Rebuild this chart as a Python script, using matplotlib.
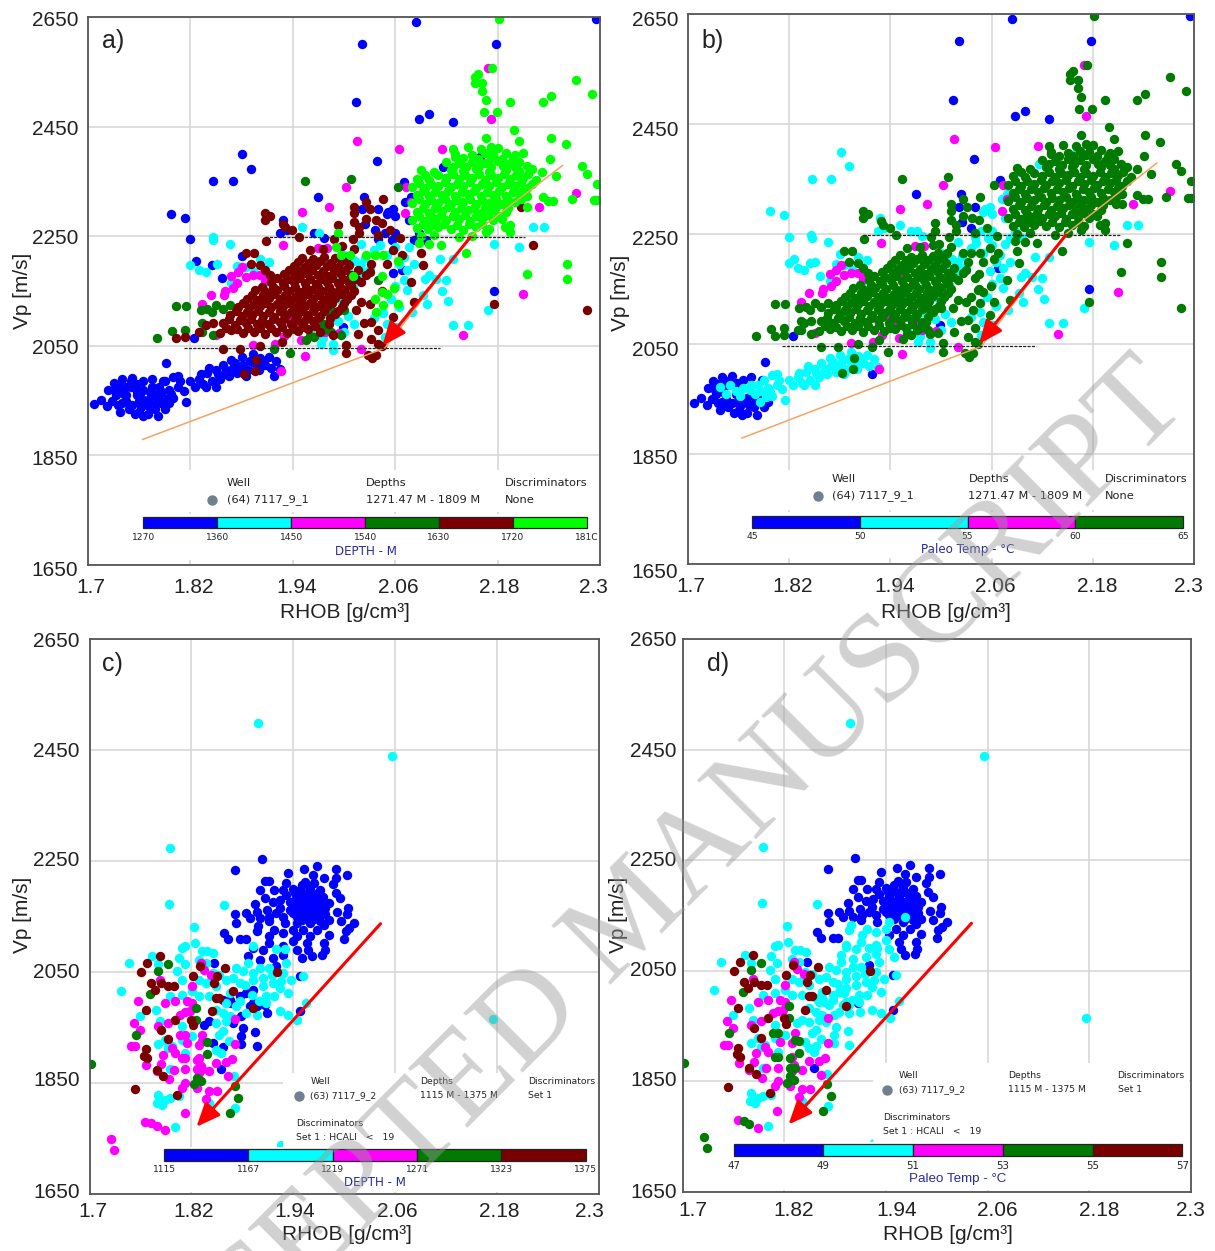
import matplotlib
matplotlib.use("Agg")
import matplotlib.pyplot as plt
from matplotlib.patches import Rectangle
from matplotlib.transforms import ScaledTranslation

W, H = 1215, 1251
BLUE, CYAN, MAG, GREEN, MAROON, LIME = "#0000ff", "#00ffff", "#ff00ff", "#007a00", "#7a0000", "#00ff00"

# ---- Well 7117_9_1 (RHOB, Vp) ----
w1_blue_both = [(1.707,1943),(1.715,1952),(1.722,1940),(1.724,1970),(1.73,1982),(1.733,1960),(1.735,1942),(1.74,1990),
 (1.745,1975),(1.745,1950),(1.748,1935),(1.752,1992),(1.758,1980),(1.76,1930),(1.764,1921),(1.768,1945),(1.77,1925),
 (1.775,1990),(1.778,1935),(1.782,1921),(1.785,1950),(1.79,1935),(1.795,1945),(1.788,1985),(1.775,1960),(1.757,1960),
 (1.742,1962),(1.791,2018),(1.824,2065),(1.999,2085),(2.176,2150),(1.918,1995),
 (1.728,1950),(1.738,1930),(1.752,1942),(1.762,1938),(1.772,1940),(1.735,1978),(1.75,1985),(1.765,1985),(1.76,1950),
 (1.77,1952),(1.78,1945),(1.755,1925),(1.73,1970),(1.74,1945),
 (2.084,2640),(2.295,2646),(2.021,2601),(2.178,2601),(2.014,2494),(2.088,2464),(2.10,2473),(2.128,2459),(2.039,2387),
 (1.97,2322),(2.024,2322),(2.021,2299),(2.04,2299),(2.025,2272),(2.036,2261),(2.07,2349),(2.068,2188)]
w1_blue_to_cyan = [(1.738,1972),(1.745,1960),(1.75,1975),(1.757,1965),(1.762,1955),(1.765,1970),(1.775,1975),(1.78,1960),
 (1.785,1945),(1.79,1985),(1.795,1970),(1.80,1955),(1.80,1993),(1.808,1985),(1.812,1968),(1.815,1948),(1.792,1953),
 (1.805,1995),(1.783,1975),(1.82,1985),(1.825,1975),(1.83,1990),(1.835,1980),(1.84,2000),(1.838,1975),(1.845,1985),
 (1.85,2005),(1.85,1975),(1.855,1990),(1.858,2015),(1.862,2005),(1.865,1995),(1.868,2025),(1.87,2010),(1.875,2000),
 (1.88,2030),(1.882,2015),(1.885,1995),(1.888,2005),(1.893,2035),(1.895,2018),(1.90,2005),(1.902,2028),(1.908,2015),
 (1.912,2030),(1.915,2010),(1.92,2022),(1.925,2008),(1.832,1998),(1.842,2010),(1.872,2018),(1.89,2022),
 (1.797,1962),(1.805,1975),(1.787,1965),(1.773,1966),(1.852,1998),(1.878,2008),(1.86,1998),(1.898,2012),(1.905,2022),
 (1.881,2400),(1.891,2373),(1.847,2350),(1.870,2350),(1.797,2291),(1.814,2284),(1.82,2245),(1.826,2205),(1.845,2197),
 (1.857,2173),(1.88,2214),(1.928,2279),(1.925,2255),(1.933,2261),(1.965,2255),(1.977,2246),(2.052,2295),(2.06,2286),
 (2.072,2313),(2.078,2322),(2.076,2279),(2.048,2255),(2.06,2255),(2.096,2243),(2.082,2243),(2.088,2255),(2.056,2243),
 (2.058,2182),(2.116,2377),(2.12,2356),(2.159,2395),(2.05,2290),(2.058,2300),(2.04,2245)]
w1_cyan = [(1.951,2266),(1.971,2255),(1.846,2248),(1.847,2243),(1.866,2236),(1.82,2197),(1.83,2188),(1.838,2184),
 (1.851,2200),(1.868,2165),(2.176,2236),(2.205,2230),(2.221,2266),(2.234,2266),(2.112,2209),(2.128,2209),(2.10,2179),
 (2.095,2171),(2.12,2170),(2.115,2150),(2.108,2171),(2.07,2212),(2.074,2188),(2.082,2200),(2.076,2231),(2.074,2152),
 (2.042,2234),(2.02,2200),(2.02,2188),(2.0,2152),(1.981,2200),(1.996,2140),(1.901,2209),(1.912,2203),(1.885,2194),
 (2.092,2143),(2.097,2127),(2.122,2132),(2.08,2112),(2.169,2115),(2.128,2088),(2.145,2088),(2.062,2085),(2.048,2066),
 (1.987,2042),(1.973,2054),(1.987,2054),(2.0,2075),(1.977,2109),(1.99,2103),(1.997,2133),(2.01,2158),(2.046,2109),
 (2.0,2215),(2.013,2205),(2.025,2210),(2.03,2190),(2.035,2225),(2.05,2215),(2.065,2200),(2.07,2170),(2.06,2160),
 (2.015,2175),(2.005,2190),(1.99,2180),(1.98,2165),(2.02,2235),(2.055,2135),(2.065,2120),(2.05,2090),(2.035,2100),
 (1.993,2095),(2.005,2105),(2.012,2090),(1.96,2075),(1.975,2065),(2.06,2230),(1.895,2185),(1.905,2160),(1.875,2195)]
w1_magenta = [(2.015,2423),(2.064,2409),(2.115,2410),(2.172,2464),(2.169,2557),(2.002,2339),(1.983,2304),(1.951,2295),
 (2.073,2340),(2.072,2292),(2.078,2313),(2.272,2328),(2.228,2304),(2.21,2145),(1.929,2234),(1.969,2228),(1.98,2228),
 (1.844,2143),(1.859,2143),(1.876,2185),(1.881,2194),(1.893,2179),(1.901,2179),(1.913,2173),(1.907,2182),(1.961,2188),
 (1.949,2176),(2.139,2069),(1.954,2031),(2.02,2045),(1.926,2004),(1.893,2051),(1.919,2054),(1.834,2127),(1.907,2169),
 (1.947,2091),(1.85,2070),(1.93,2067),(1.95,2061),(1.97,2085),(1.978,2076),(1.994,2073),(1.984,2127),(1.935,2103),
 (1.87,2155),(1.86,2150),(1.875,2165),(1.868,2178),(1.885,2175)]
w1_green = [(1.954,2350),(2.008,2354),(2.063,2340),(1.803,2123),(1.815,2123),(1.781,2065),(1.799,2077),(1.814,2079),
 (1.832,2115),(1.84,2118),(1.85,2124),(1.858,2118),(1.866,2124),(1.937,2036),(1.918,2044),(1.846,2069),(1.834,2076),
 (1.834,2091),(2.0,2115),(1.985,2115),(1.975,2079),(1.965,2066),(1.955,2060),(1.997,2070),(1.929,2109),(1.977,2090),
 (1.96,2068),(1.985,2075),(1.845,2112),(1.875,2118),(1.94,2080),(2.04,2170)]
w1_maroon = [(1.907,2292),(1.913,2286),(1.907,2279),(1.929,2273),(1.931,2266),(1.939,2261),(1.947,2249),(1.909,2241),
 (1.885,2220),(1.895,2220),(1.891,2199),(1.901,2197),(1.907,2188),(1.913,2179),(2.026,2313),(2.046,2318),(2.012,2304),
 (2.031,2299),(2.012,2292),(2.026,2282),(2.012,2276),(2.037,2279),(2.045,2275),(1.993,2270),(2.018,2267),(2.018,2255),
 (2.054,2261),(2.04,2252),(2.066,2246),(2.09,2220),(2.093,2197),(2.078,2166),(2.058,2225),(2.068,2215),(2.05,2200),
 (2.032,2200),(2.207,2304),(2.221,2234),(2.176,2127),(2.285,2115),(2.082,2130),(2.058,2103),(2.04,2079),(2.032,2063),
 (2.04,2054),(2.044,2050),(2.028,2033),(2.038,2033),(2.033,2027),(2.002,2051),(2.002,2036),(2.016,2072),(2.024,2091),
 (2.032,2094),(2.014,2115),(2.02,2130),(2.03,2127),(2.045,2150),(1.897,2025),(1.883,1998),(1.896,2004),(1.858,2045),
 (1.878,2045),(1.901,2050),(1.927,2057),(1.803,2065),(1.814,2066),(1.83,2076),(1.838,2088),(1.846,2091),(1.987,2069),
 (1.855,2074),(1.868,2078),(1.882,2073),(1.894,2076),(1.907,2071),(1.92,2075),(1.933,2073),(1.946,2077),(1.958,2080),(1.972,2076),
 (1.858,2091),(1.872,2088),(1.885,2092),(1.898,2089),(1.911,2090),(1.925,2093),(1.938,2089),(1.951,2092),(1.964,2095),(1.982,2090),
 (1.866,2106),(1.88,2104),(1.892,2107),(1.905,2105),(1.918,2103),(1.932,2106),(1.945,2104),(1.958,2107),(1.972,2105),(1.99,2108),
 (1.876,2121),(1.889,2119),(1.902,2122),(1.915,2120),(1.928,2123),(1.941,2119),(1.954,2122),(1.967,2120),(1.98,2123),(1.998,2120),
 (1.886,2136),(1.899,2134),(1.912,2137),(1.925,2135),(1.938,2133),(1.951,2137),(1.964,2135),(1.977,2134),(1.99,2137),(2.003,2135),
 (1.896,2151),(1.909,2149),(1.922,2152),(1.935,2150),(1.948,2148),(1.961,2152),(1.974,2150),(1.987,2149),(2.0,2152),(2.012,2150),
 (1.915,2166),(1.928,2164),(1.941,2167),(1.954,2165),(1.967,2163),(1.98,2167),(1.993,2165),(2.006,2164),(2.02,2167),
 (1.93,2181),(1.943,2179),(1.956,2182),(1.969,2180),(1.982,2178),(1.995,2182),(2.008,2180),(2.026,2179),
 (1.941,2196),(1.954,2194),(1.967,2197),(1.98,2195),(1.993,2193),(2.006,2197),(2.03,2185),
 (1.951,2211),(1.964,2209),(1.977,2212),(1.99,2210),(2.003,2212),(1.96,2224),(1.975,2226),(1.998,2232),(2.012,2226),(1.988,2245),(2.01,2245),
 (1.862,2082),(1.875,2081),(1.888,2083),(1.901,2082),(1.914,2082),(1.927,2084),(1.94,2083),(1.953,2085),(1.966,2086),
 (1.865,2098),(1.878,2097),(1.891,2099),(1.904,2097),(1.917,2098),(1.93,2099),(1.943,2097),(1.956,2099),(1.969,2100),(1.984,2100),
 (1.873,2113),(1.886,2112),(1.899,2114),(1.912,2112),(1.925,2113),(1.938,2112),(1.951,2114),(1.964,2113),(1.977,2114),(1.993,2114),
 (1.882,2128),(1.895,2127),(1.908,2129),(1.921,2127),(1.934,2128),(1.947,2127),(1.96,2129),(1.973,2127),(1.986,2129),(2.0,2128),
 (1.892,2143),(1.905,2142),(1.918,2144),(1.931,2142),(1.944,2141),(1.957,2144),(1.97,2142),(1.983,2142),(1.996,2144),(2.008,2142),
 (1.904,2158),(1.917,2157),(1.93,2159),(1.943,2157),(1.956,2156),(1.969,2158),(1.982,2158),(1.995,2157),(2.008,2159),
 (1.921,2173),(1.934,2172),(1.947,2174),(1.96,2172),(1.973,2171),(1.986,2173),(1.999,2172),(2.014,2172),
 (1.936,2188),(1.949,2187),(1.962,2189),(1.975,2187),(1.988,2186),(2.001,2189),(2.016,2188),
 (1.946,2203),(1.959,2202),(1.972,2204),(1.985,2202),(1.998,2204)]
w1_lime = [(2.182,2646),(2.173,2557),(2.153,2541),(2.157,2546),(2.162,2530),(2.153,2530),(2.162,2515),(2.166,2499),
 (2.164,2477),(2.179,2477),(2.195,2494),(2.233,2494),(2.242,2505),(2.272,2535),(2.291,2510),(2.199,2444),(2.166,2430),
 (2.205,2423),(2.242,2430),(2.26,2418),(2.241,2391),(2.279,2378),(2.285,2364),(2.297,2346),(2.249,2359),(2.267,2318),
 (2.293,2316),(2.297,2316),(2.233,2321),(2.245,2314),(2.239,2314),(2.215,2304),(2.261,2200),(2.261,2172),(2.214,2181),
 (2.143,2220),(2.166,2257),(2.189,2266),(2.195,2270),(2.194,2257),(2.114,2234),(2.1,2236),(2.088,2237),
 (1.993,2255),(1.991,2230),(1.997,2216),(2.007,2216),(2.026,2216),(2.036,2216),(2.046,2216),(2.063,2205),(2.01,2177),
 (2.045,2177),(2.059,2156),(2.044,2149),(2.05,2144),(2.036,2136),(2.063,2127),(2.046,2124),(2.038,2112),
 (2.09,2250),(2.105,2252),(2.135,2248),(2.15,2251),(2.085,2265),(2.098,2263),(2.11,2266),(2.125,2264),(2.14,2262),(2.155,2266),(2.17,2264),
 (2.08,2280),(2.095,2278),(2.108,2281),(2.12,2279),(2.135,2282),(2.148,2278),(2.162,2281),(2.175,2279),(2.185,2282),
 (2.085,2295),(2.10,2293),(2.115,2296),(2.13,2294),(2.145,2297),(2.16,2293),(2.172,2296),(2.19,2294),
 (2.08,2310),(2.095,2308),(2.11,2311),(2.125,2309),(2.14,2312),(2.155,2308),(2.17,2311),(2.185,2309),(2.2,2312),
 (2.085,2325),(2.10,2323),(2.115,2326),(2.13,2324),(2.145,2327),(2.16,2323),(2.175,2326),(2.19,2324),(2.205,2327),(2.215,2323),
 (2.08,2340),(2.095,2338),(2.11,2341),(2.125,2339),(2.14,2342),(2.155,2338),(2.17,2341),(2.185,2339),(2.2,2342),(2.215,2338),
 (2.085,2355),(2.10,2353),(2.12,2356),(2.135,2354),(2.15,2357),(2.165,2353),(2.18,2356),(2.195,2354),(2.21,2357),(2.225,2353),
 (2.09,2370),(2.105,2368),(2.125,2371),(2.14,2369),(2.155,2372),(2.17,2368),(2.19,2371),(2.205,2369),(2.22,2372),(2.232,2368),
 (2.12,2385),(2.135,2383),(2.15,2386),(2.165,2384),(2.18,2387),(2.195,2383),(2.205,2386),
 (2.13,2400),(2.15,2398),(2.165,2401),(2.175,2399),(2.19,2402),(2.2,2398),(2.21,2401),
 (2.145,2412),(2.16,2410),(2.172,2413),(2.18,2411),(2.128,2410),(2.13,2395),
 (2.092,2272),(2.103,2271),(2.117,2273),(2.132,2271),(2.147,2272),(2.162,2272),
 (2.088,2287),(2.102,2286),(2.114,2288),(2.128,2287),(2.142,2288),(2.155,2286),(2.168,2288),(2.18,2287),
 (2.092,2302),(2.107,2301),(2.122,2303),(2.137,2301),(2.152,2302),(2.165,2301),(2.178,2303),(2.192,2302),
 (2.088,2317),(2.102,2316),(2.118,2318),(2.132,2316),(2.148,2318),(2.162,2316),(2.178,2318),(2.192,2316),(2.207,2318),
 (2.092,2332),(2.107,2331),(2.122,2333),(2.138,2331),(2.152,2333),(2.168,2331),(2.182,2333),(2.198,2331),(2.21,2333),
 (2.088,2347),(2.102,2346),(2.118,2348),(2.132,2346),(2.148,2348),(2.162,2346),(2.178,2348),(2.192,2346),(2.207,2348),(2.22,2346),
 (2.095,2362),(2.11,2361),(2.128,2363),(2.142,2361),(2.158,2363),(2.172,2361),(2.188,2363),(2.202,2361),(2.216,2363),
 (2.128,2377),(2.143,2376),(2.158,2378),(2.172,2376),(2.186,2378),(2.2,2376),(2.214,2378),
 (2.14,2392),(2.157,2391),(2.172,2393),(2.185,2391),(2.198,2392)]

# ---- Well 7117_9_2 (RHOB, Vp) ----
w2_blue_both = [(1.903,2254),(1.872,2234),(1.968,2241),(1.953,2236),(1.934,2229),(1.991,2236),(2.004,2225),(1.963,2225),
 (1.976,2220),(1.991,2220),(1.987,2208),(1.907,2214),(1.911,2214),(1.932,2210),(1.954,2213),(1.964,2210),(1.901,2198),
 (1.918,2198),(1.928,2198),(1.94,2199),(1.948,2198),(1.96,2198),(1.972,2198),(1.99,2193),(1.907,2184),(1.932,2189),
 (1.944,2186),(1.956,2186),(1.968,2183),(1.982,2174),(1.995,2184),(1.895,2172),(1.916,2177),(1.936,2177),(1.948,2174),
 (1.96,2174),(1.972,2174),(1.872,2154),(1.885,2157),(1.897,2159),(1.909,2162),(1.924,2165),(1.936,2162),(1.948,2162),
 (1.96,2162),(1.972,2162),(1.992,2159),(2.005,2165),(2.004,2154),(1.873,2139),(1.889,2147),(1.901,2147),(1.912,2150),
 (1.928,2150),(1.944,2150),(1.956,2150),(1.968,2150),(1.982,2144),(1.996,2141),(2.012,2138),(1.911,2141),(1.93,2138),
 (1.96,2138),(1.976,2135),(2.006,2130),(1.952,2126),(1.968,2126),(1.982,2117),(2.002,2123),(1.859,2120),(1.863,2109),
 (1.877,2109),(1.884,2109),(1.944,2114),(1.96,2114),(2.0,2109),(1.956,2102),(1.976,2102),(1.958,2090),(1.977,2090),
 (1.962,2078),(1.974,2081),(1.948,1980),(1.948,2043),(1.92,2060),(1.847,2066),(1.855,1875),(1.907,1991),
 (1.942,2192),(1.952,2192),(1.962,2192),(1.942,2180),(1.954,2180),(1.966,2178),(1.94,2168),(1.954,2168),(1.966,2168),
 (1.978,2166),(1.94,2156),(1.952,2156),(1.964,2156),(1.978,2154),(1.95,2144),(1.962,2144),(1.972,2142),(1.925,2180),
 (1.92,2156),(1.96,2204),(1.95,2206),(1.975,2186)]
w2_blue_to_cyan = [(1.912,2114),(1.928,2120),(1.911,2102),(1.94,2105),(1.893,2093),(1.905,2090),(1.928,2096),(1.944,2090),
 (1.887,2078),(1.901,2072),(1.916,2075),(1.928,2081),(1.95,2075),(1.897,2123),(1.918,2126),(1.94,2126),(1.899,2132),
 (1.944,2138),(1.962,2147),(1.857,2000),(1.867,1994),(1.885,2012),(1.893,2018),(1.877,2006),(1.893,1994),(1.909,1976),
 (1.879,1970),(1.881,1949),(1.879,1934),(1.895,1941),(1.897,1916),(1.879,1920),(1.857,1914),(1.845,1922),(1.835,1955),
 (1.841,1961),(1.869,1958),(1.865,2000),(1.889,1988),(1.897,1988)]
w2_cyan = [(1.898,2499),(2.056,2439),(1.795,2274),(1.794,2172),(1.859,2170),(1.823,2131),(1.824,2102),(2.176,1965),
 (1.813,2096),(1.809,2094),(1.833,2088),(1.839,2088),(1.846,2084),(1.774,2079),(1.746,2066),(1.805,2076),(1.781,2064),
 (1.812,2064),(1.803,2051),(1.737,2016),(1.809,2036),(1.893,2096),(1.92,2091),(1.93,2091),(1.932,2066),(1.887,2066),
 (1.829,2072),(1.837,2066),(1.845,2048),(1.829,2036),(1.837,2030),(1.849,2024),(1.861,2036),(1.873,2057),(1.881,2051),
 (1.893,2048),(1.901,2057),(1.911,2057),(1.869,2039),(1.883,2027),(1.893,2036),(1.905,2024),(1.916,2030),(1.926,2033),
 (1.938,2036),(1.952,2043),(1.924,2021),(1.934,2012),(1.918,2006),(1.865,2012),(1.877,1997),(1.891,2009),(1.908,1994),
 (1.924,1979),(1.934,1973),(1.897,1973),(1.885,1976),(1.873,1988),(1.861,1994),(1.849,1982),(1.857,1976),(1.865,1970),
 (1.849,1958),(1.861,1961),(1.841,2006),(1.829,2006),(1.821,2015),(1.795,2006),(1.809,2009),(1.778,1982),(1.76,1970),
 (1.783,1961),(1.789,1928),(1.781,1920),(1.797,1916),(1.809,1952),(1.821,1934),(1.809,1928),(1.857,1943),(1.853,1937),
 (1.864,1926),(1.849,1910),(1.855,1904),(1.955,1995),(1.945,1964),(1.87,1863),(1.841,1814),(1.872,1805),(1.801,1770),
 (1.781,1829),(1.78,1814),(1.785,1811),(1.789,1820),(1.795,1823),(1.805,1826),(1.795,1875),(1.793,1913),(1.813,1904),
 (1.926,1739),(1.843,2036),(1.853,2044),(1.877,2030),(1.905,2040),(1.915,2045),(1.928,2048),(1.908,2006),(1.9,1998)]
w2_magenta = [(1.831,2066),(1.835,2053),(1.843,2045),(1.783,2036),(1.821,2024),(1.757,1997),(1.789,1994),(1.801,1997),
 (1.815,1997),(1.821,1994),(1.813,1978),(1.807,1973),(1.819,1979),(1.752,1959),(1.76,1946),(1.793,1959),(1.781,1952),
 (1.872,1965),(1.833,1937),(1.829,1919),(1.815,1922),(1.872,1920),(1.749,1916),(1.754,1916),(1.797,1913),(1.801,1904),
 (1.787,1901),(1.784,1885),(1.767,1883),(1.829,1895),(1.849,1886),(1.861,1887),(1.868,1893),(1.831,1880),(1.813,1875),
 (1.799,1874),(1.779,1871),(1.841,1871),(1.829,1868),(1.794,1857),(1.813,1850),(1.809,1841),(1.827,1841),(1.841,1836),
 (1.85,1836),(1.837,1821),(1.863,1862),(1.812,1796),(1.789,1766),(1.765,1780)]
w2_magenta_to_green = [(1.725,1750),(1.729,1730),(1.779,1773),(1.772,1778),(1.809,1895),(1.813,1895),(1.827,1875),
 (1.833,1875),(1.827,1892),(1.807,1937),(1.813,1937),(1.833,1925)]
w2_green = [(1.793,2064),(1.781,2052),(1.771,2011),(1.826,1986),(1.826,1964),(1.755,1937),(1.838,1923),(1.838,1902),
 (1.702,1884),(1.827,1859),(1.823,1848),(1.831,1853),(1.871,1845),(1.875,1823),(1.866,1796)]
w2_maroon = [(1.783,2079),(1.768,2066),(1.761,2050),(1.83,2060),(1.822,2043),(1.86,2057),(1.85,2043),(1.921,2050),
 (1.772,2030),(1.784,2030),(1.793,2024),(1.8,2025),(1.777,2018),(1.847,2030),(1.869,2016),(1.849,2004),(1.853,2004),
 (1.893,1986),(1.844,1979),(1.766,1982),(1.801,1964),(1.82,1964),(1.822,1954),(1.784,1946),(1.793,1929),(1.766,1911),
 (1.764,1899),(1.768,1895),(1.779,1874),(1.787,1863),(1.754,1839),(1.803,1829)]

# ---- axes labels and colour keys ----
x_ticks = [1.7, 1.82, 1.94, 2.06, 2.18, 2.3]
x_tick_labels = ["1.7", "1.82", "1.94", "2.06", "2.18", "2.3"]
y_ticks = [1650, 1850, 2050, 2250, 2450, 2650]
depth_a = ["1270", "1360", "1450", "1540", "1630", "1720", "1810"]
temp_b = ["45", "50", "55", "60", "65"]
depth_c = ["1115", "1167", "1219", "1271", "1323", "1375"]
temp_d = ["47", "49", "51", "53", "55", "57"]
colors_a = [BLUE, CYAN, MAG, GREEN, MAROON, LIME]
colors_b = [BLUE, CYAN, MAG, GREEN]
colors_c = [BLUE, CYAN, MAG, GREEN, MAROON]

SANS = "Liberation Sans"
LEG = "DejaVu Sans"
fig = plt.figure(figsize=(W / 100, H / 100), dpi=100, facecolor="white")

def fx(p): return p / W
def fy(p): return 1 - p / H

def panel(l, r, t, b, dx, dy_x, ylab_dx, ylab_dy):
    ax = fig.add_axes([fx(l), fy(b), (r - l) / W, (b - t) / H])
    ax.set_xlim(1.7, 2.3)
    ax.set_ylim(1650, 2650)
    ax.set_xticks(x_ticks, x_tick_labels, fontsize=15, family=SANS, color="#222222")
    ax.set_yticks(y_ticks, [str(v) for v in y_ticks], fontsize=15, family=SANS, color="#222222")
    ax.tick_params(length=0, pad=7)
    ax.grid(True, color="#d9d9d9", lw=1.25, zorder=0)
    ax.set_axisbelow(True)
    for s in ax.spines.values():
        s.set_color("#555555"); s.set_linewidth(1.3); s.set_zorder(20)
    for lab, d in zip(ax.get_xticklabels(), dx):
        lab.set_transform(lab.get_transform() + ScaledTranslation(d / 100, -dy_x / 100, fig.dpi_scale_trans))
    for lab, d in zip(ax.get_yticklabels(), ylab_dy):
        lab.set_transform(lab.get_transform() + ScaledTranslation(ylab_dx / 100, -d / 100, fig.dpi_scale_trans))
    return ax

def pts(ax, data, c, z=3):
    ax.scatter([p[0] for p in data], [p[1] for p in data], s=46, c=c, linewidths=0, zorder=z)

def ftext(x, y, s, size=8.2, color="#222222", ha="left", family=LEG, **kw):
    fig.text(fx(x), fy(y), s, fontsize=size, color=color, ha=ha, va="center", family=family, **kw)

def white(x0, x1, y0, y1):
    fig.add_artist(Rectangle((fx(x0), fy(y1)), (x1 - x0) / W, (y1 - y0) / H, transform=fig.transFigure,
                             fc="white", ec="none", zorder=4))

def cbar(x0, x1, y0, y1, cols, labels, lab_y, size=6.6, clip_last=False):
    n = len(cols)
    step = (x1 - x0) / n
    for i, c in enumerate(cols):
        fig.add_artist(Rectangle((fx(x0 + i * step), fy(y1)), step / W, (y1 - y0) / H, transform=fig.transFigure,
                                 fc=c, ec="#222222", lw=0.9, zorder=5))
    for i, s in enumerate(labels):
        t = s[:-1] + "C" if (clip_last and i == n) else s
        fig.text(fx(x0 + i * step), fy(lab_y), t, fontsize=size, color="#222222", ha="center", va="center",
                 family=LEG, zorder=6)

def well_legend(dotx, wx, dx_, disx, y1, y2, well, depths, disc, size=8.2):
    fig.add_artist(plt.Line2D([fx(dotx)], [fy(y2)], marker="o", ms=7.5, color="#708090", mew=0,
                              transform=fig.transFigure, zorder=6))
    for x, a, b in [(wx, "Well", well), (dx_, "Depths", depths), (disx, "Discriminators", disc)]:
        ftext(x, y1, a, size=size, zorder=6)
        ftext(x, y2, b, size=size, zorder=6)

def draw_trend(ax):
    ax.plot([1.764, 2.048, 2.148, 2.256], [1879, 2046, 2250, 2379], color="#f4a460", lw=1.1, zorder=6)
    ax.plot([1.908, 2.212], [2248, 2248], color="#222222", lw=0.9, ls=(0, (2.5, 1)), zorder=6)
    ax.plot([1.812, 2.113], [2046, 2046], color="#222222", lw=0.9, ls=(0, (2.5, 1)), zorder=6)

def arrow(ax, x0, y0, x1, y1):
    ax.annotate("", xy=(x1, y1), xytext=(x0, y0), zorder=7,
                arrowprops=dict(arrowstyle="-|>,head_length=0.9,head_width=0.38", mutation_scale=16, color="#ff0000",
                                lw=2.2, shrinkA=0, shrinkB=0))

# ---- a ----
a = panel(88, 600, 17, 565, [3, 3, 4, 3, 2, -7], 3, 0, [4, 2, 1, 0, 1, 2])
for d, c in [(w1_blue_both, BLUE), (w1_blue_to_cyan, BLUE), (w1_cyan, CYAN), (w1_magenta, MAG), (w1_green, GREEN),
             (w1_maroon, MAROON), (w1_lime, LIME)]:
    pts(a, d, c)
draw_trend(a); arrow(a, 2.148, 2248, 2.045, 2050)
white(150, 597, 470, 512); white(150, 597, 514, 560)
cbar(143.4, 586.8, 516.7, 528, colors_a, depth_a, 537.7, clip_last=True)
ftext(365.8, 551, "DEPTH - M", size=8.6, color="#2a2a9a", ha="center", zorder=6)
well_legend(212, 226.8, 365.8, 504.4, 482.7, 500, "(64) 7117_9_1", "1271.47 M - 1809 M", "None")

# ---- b ----
b = panel(688, 1194, 14, 564, [3, 3, 4, 4, 4, -6], 3, 0, [6, 3, 4, 3, 4, 5])
for d, c in [(w1_blue_both, BLUE), (w1_blue_to_cyan, CYAN), (w1_cyan, CYAN), (w1_magenta, MAG), (w1_green, GREEN),
             (w1_maroon, GREEN), (w1_lime, GREEN)]:
    pts(b, d, c)
draw_trend(b); arrow(b, 2.148, 2248, 2.045, 2050)
white(760, 1190, 470, 510); white(760, 1190, 512, 558)
cbar(752, 1183, 516, 527.7, colors_b, temp_b, 536.7)
ftext(967.5, 550, "Paleo Temp - °C", size=8.6, color="#2a2a9a", ha="center", zorder=6)
well_legend(817.6, 832, 968.5, 1104.4, 478.7, 496, "(64) 7117_9_1", "1271.47 M - 1809 M", "None")

# ---- c ----
c_ = panel(89.5, 598.6, 639, 1194, [3, 2, 2, 2, 2, -9], -2, 0, [-3, -5, -2, -2, 0, 1])
for d, c in [(w2_blue_both, BLUE), (w2_blue_to_cyan, BLUE), (w2_cyan, CYAN), (w2_magenta, MAG),
             (w2_magenta_to_green, MAG), (w2_green, GREEN), (w2_maroon, MAROON)]:
    pts(c_, d, c)
arrow(c_, 2.043, 2137, 1.826, 1771)
white(283, 597, 1073, 1147); white(150, 597, 1147, 1192)
cbar(164, 585.8, 1149.3, 1160.7, colors_c, depth_c, 1169.3)
ftext(375, 1182, "DEPTH - M", size=8.6, color="#2a2a9a", ha="center", zorder=6)
well_legend(299.3, 310.5, 419.7, 528.5, 1081.7, 1095.7, "(63) 7117_9_2", "1115 M - 1375 M", "Set 1", size=6.7)
ftext(296, 1123, "Discriminators", size=6.7, zorder=6)
ftext(296, 1137, "Set 1 : HCALI   <   19", size=6.7, zorder=6)

# ---- d ----
d_ = panel(682.5, 1191, 639, 1192, [10, 9, 11, 10, 10, -1], -1, 4, [-1, -3, -2, -2, 0, 0])
for d, c in [(w2_blue_both, BLUE), (w2_blue_to_cyan, CYAN), (w2_cyan, CYAN), (w2_magenta, MAG),
             (w2_magenta_to_green, GREEN), (w2_green, GREEN), (w2_maroon, MAROON)]:
    pts(d_, d, c)
arrow(d_, 2.041, 2136, 1.825, 1772)
white(873, 1189, 1063, 1142); white(725, 1189, 1142, 1190)
cbar(733.6, 1182.4, 1144, 1156, colors_c, temp_d, 1165.7, size=7.4)
ftext(957.3, 1179, "Paleo Temp - °C", size=9.6, color="#2a2a9a", ha="center", family=SANS, zorder=6)
well_legend(886.8, 898.6, 1008, 1117.6, 1075.7, 1090, "(63) 7117_9_2", "1115 M - 1375 M", "Set 1", size=6.7)
ftext(883.4, 1117.7, "Discriminators", size=6.7, zorder=6)
ftext(883.4, 1131.7, "Set 1 : HCALI   <   19", size=6.7, zorder=6)

# ---- outer labels ----
for x, y, s in [(345, 612, "RHOB [g/cm³]"), (946, 612, "RHOB [g/cm³]"), (347, 1235, "RHOB [g/cm³]"), (948, 1235, "RHOB [g/cm³]")]:
    ftext(x, y, s, size=15, ha="center", family=SANS)
for x, y in [(22, 291), (621, 293), (22, 915), (618, 915)]:
    fig.text(fx(x), fy(y), "Vp [m/s]", fontsize=15, rotation=90, ha="center", va="center", family=SANS, color="#222222")
for x, y, s in [(113, 41, "a)"), (713, 41, "b)"), (112, 664, "c)"), (718, 664, "d)")]:
    ftext(x, y, s, size=18, ha="center", family=SANS, zorder=21)

# ---- watermark ----
fig.text(fx(633), fy(919), "ACCEPTED MANUSCRIPT", fontsize=92, rotation=45, rotation_mode="anchor", ha="center",
         va="center", family="Liberation Serif", color="#9a9a9a", alpha=0.45, zorder=30)

fig.savefig("out.png", dpi=100)
